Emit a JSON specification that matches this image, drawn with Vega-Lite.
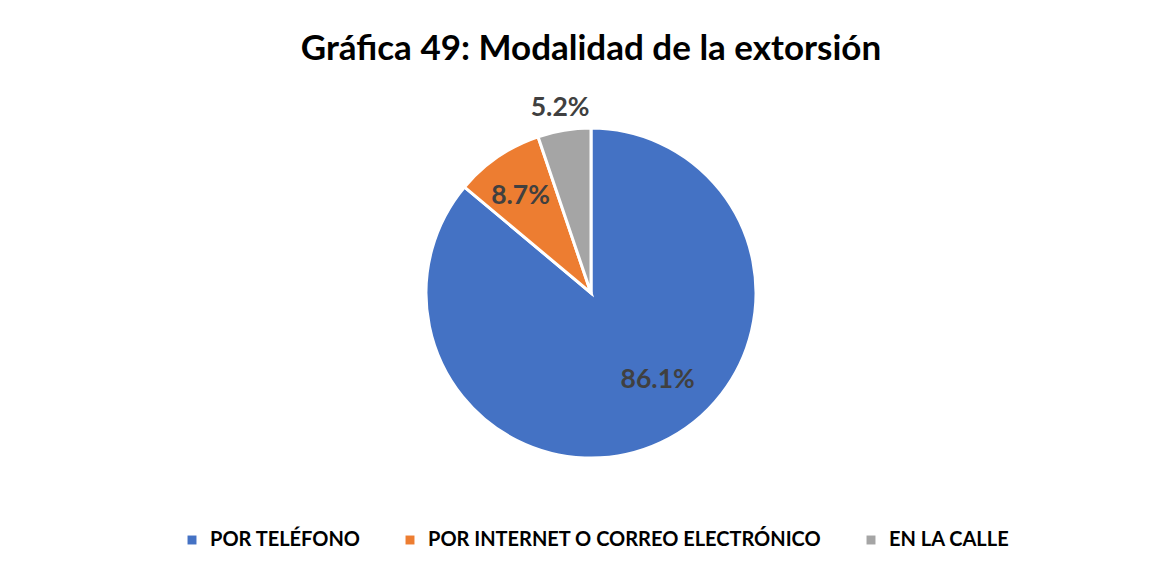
{
  "$schema": "https://vega.github.io/schema/vega-lite/v6.json",
  "width": 1100,
  "height": 390,
  "autosize": {"type": "pad"},
  "padding": {"left": 41, "right": 26, "top": 31, "bottom": 20},
  "background": "white",
  "title": {
    "text": "Gráfica 49: Modalidad de la extorsión",
    "font": "Lato",
    "fontSize": 35,
    "fontWeight": "bold",
    "color": "#000000",
    "anchor": "middle",
    "offset": 28
  },
  "config": {"view": {"stroke": null}},
  "data": {
    "values": [
      {"modalidad": "POR TELÉFONO", "valor": 0.861, "orden": 1},
      {"modalidad": "POR INTERNET O CORREO ELECTRÓNICO", "valor": 0.087, "orden": 2},
      {"modalidad": "EN LA CALLE", "valor": 0.052, "orden": 3}
    ]
  },
  "encoding": {
    "theta": {"field": "valor", "type": "quantitative", "stack": true},
    "order": {"field": "orden", "type": "quantitative"}
  },
  "layer": [
    {
      "mark": {"type": "arc", "radius": 165, "stroke": "white", "strokeWidth": 3},
      "encoding": {
        "color": {
          "field": "modalidad",
          "type": "nominal",
          "sort": ["POR TELÉFONO", "POR INTERNET O CORREO ELECTRÓNICO", "EN LA CALLE"],
          "scale": {
            "domain": ["POR TELÉFONO", "POR INTERNET O CORREO ELECTRÓNICO", "EN LA CALLE"],
            "range": ["#4472C4", "#ED7D31", "#A5A5A5"]
          },
          "legend": {
            "title": null,
            "orient": "none",
            "legendX": 141,
            "legendY": 432,
            "direction": "horizontal",
            "symbolType": "square",
            "symbolSize": 80,
            "symbolStrokeWidth": 0,
            "labelFont": "Lato",
            "labelFontSize": 20,
            "labelFontWeight": "bold",
            "labelColor": "#000000",
            "labelLimit": 600,
            "labelOffset": 8,
            "columnPadding": 39,
            "symbolOffset": 0
          }
        }
      }
    },
    {
      "mark": {"type": "text", "radius": 108, "dx": 21, "dy": -11, "font": "Lato", "fontSize": 26.5, "fontWeight": "bold", "color": "#404040"},
      "encoding": {
        "text": {
          "condition": {"test": "datum.orden === 1", "field": "valor", "format": ".1%"},
          "value": ""
        }
      }
    },
    {
      "mark": {"type": "text", "radius": 123, "dx": -1, "dy": 5, "font": "Lato", "fontSize": 26.5, "fontWeight": "bold", "color": "#404040"},
      "encoding": {
        "text": {
          "condition": {"test": "datum.orden === 2", "field": "valor", "format": ".1%"},
          "value": ""
        }
      }
    },
    {
      "mark": {"type": "text", "radius": 190, "dy": 2, "font": "Lato", "fontSize": 26.5, "fontWeight": "bold", "color": "#404040"},
      "encoding": {
        "text": {
          "condition": {"test": "datum.orden === 3", "field": "valor", "format": ".1%"},
          "value": ""
        }
      }
    }
  ]
}
